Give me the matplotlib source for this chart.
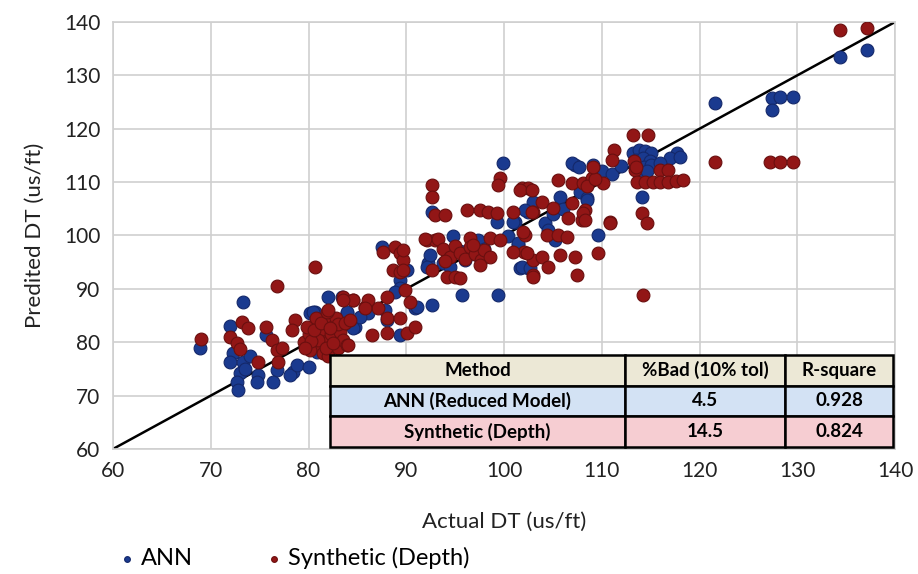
import matplotlib.pyplot as plt

plt.rcParams['font.family'] = ['Lato', 'DejaVu Sans']

# ANN (Reduced Model) predictions: (actual, predicted)
ann_pts = [
    (68.9, 79.0), (73.3, 87.5), (72.0, 83.0), (72.3, 78.0), (72.0, 76.3), (73.3, 76.3),
    (73.0, 74.2), (72.7, 72.6), (72.8, 71.1), (74.8, 73.9), (74.7, 72.6), (75.7, 81.4),
    (76.8, 74.8), (76.4, 72.6), (78.4, 74.4), (78.1, 73.9), (78.8, 75.7), (80.1, 75.4),
    (80.7, 85.7), (80.9, 78.2), (82.0, 88.5), (80.2, 85.5), (83.9, 85.5), (84.8, 82.9),
    (73.5, 75.0), (74.0, 77.5), (87.5, 97.8), (90.1, 93.5), (89.4, 91.6), (89.4, 90.2),
    (88.8, 89.4), (90.9, 86.4), (87.8, 86.0), (86.1, 85.5), (85.3, 84.7), (83.4, 88.5),
    (83.9, 85.7), (84.6, 82.7), (80.5, 85.7), (82.5, 84.5), (88.0, 84.2), (89.4, 81.3),
    (92.6, 87.0), (92.2, 94.9), (99.9, 113.6), (92.6, 104.4), (99.3, 102.5), (101.1, 102.5),
    (102.5, 104.4), (94.8, 99.9), (97.3, 99.2), (100.4, 99.9), (101.4, 98.2), (101.6, 93.9),
    (102.5, 93.9), (92.4, 96.3), (92.1, 94.1), (93.8, 94.9), (94.5, 94.1), (95.7, 88.9),
    (99.4, 88.9), (91.1, 86.6), (95.5, 97.0), (97.0, 96.5), (98.0, 97.5), (96.0, 95.5),
    (107.3, 113.2), (107.8, 108.2), (105.7, 107.2), (103.0, 106.3), (108.5, 107.0),
    (102.1, 104.8), (100.9, 102.5), (104.2, 102.3), (104.5, 101.0), (105.2, 99.2),
    (109.6, 100.0), (101.4, 98.6), (101.8, 94.1), (102.7, 93.9), (105.0, 104.0),
    (106.0, 105.0), (110.0, 112.0), (111.0, 111.5), (112.0, 113.0),
    (113.2, 115.5), (113.8, 116.0), (114.4, 115.8), (115.0, 115.5), (113.5, 114.2),
    (114.2, 114.5), (114.9, 114.0), (113.4, 113.0), (114.3, 112.8), (115.0, 113.2),
    (113.8, 111.8), (114.6, 112.0), (117.7, 115.5), (117.0, 114.5), (116.0, 113.6),
    (118.0, 114.7), (114.1, 107.2), (109.1, 113.2), (108.5, 106.7), (107.0, 113.6),
    (107.7, 112.9), (121.6, 124.8), (127.4, 125.8), (128.2, 126.0), (127.4, 123.5),
    (129.6, 126.0), (134.4, 133.4), (137.1, 134.8),
]

# Synthetic (Depth) predictions: (actual, predicted)
syn_pts = [
    (69.0, 80.6), (76.8, 90.5), (80.7, 94.1), (73.2, 83.8), (73.8, 82.7), (72.0, 81.0),
    (72.7, 79.9), (73.0, 78.8), (74.8, 76.3), (75.7, 82.9), (76.3, 80.4), (76.8, 78.6),
    (76.9, 76.3), (77.3, 78.9), (78.6, 84.2), (78.3, 82.3),
    (79.5, 80.0), (80.0, 81.5), (80.5, 83.0), (81.0, 79.5), (81.2, 81.0), (81.5, 82.5),
    (81.8, 84.0), (82.0, 80.0), (82.3, 81.5), (82.6, 83.0), (83.0, 79.0), (83.2, 82.0),
    (80.2, 78.5), (81.5, 78.0), (82.8, 84.5), (79.8, 82.8), (80.8, 84.5), (83.5, 80.5),
    (82.0, 77.5), (81.0, 80.5), (80.3, 80.2), (81.8, 79.0), (82.5, 79.8), (80.6, 82.2),
    (83.0, 83.5), (79.6, 79.0), (81.3, 83.6), (82.2, 82.6),
    (83.5, 88.5), (84.5, 87.9), (81.9, 85.7), (85.8, 86.6), (83.7, 83.6), (83.9, 79.5),
    (87.6, 96.9), (88.8, 97.8), (89.4, 96.7), (89.7, 95.4), (88.6, 93.5), (89.4, 93.2),
    (89.9, 89.8), (90.4, 87.5), (88.0, 88.5), (87.1, 86.4), (86.1, 87.9), (85.8, 86.4),
    (84.6, 87.9), (83.5, 87.9), (84.2, 84.2), (82.0, 86.0), (88.0, 84.5), (89.4, 84.5),
    (88.0, 81.7), (86.5, 81.3), (90.1, 81.7), (90.9, 82.9), (92.1, 99.2), (92.9, 99.2),
    (84.0, 79.5), (99.6, 110.8), (99.4, 109.5), (92.6, 109.5), (92.6, 107.2), (92.9, 103.8),
    (94.0, 103.8), (96.2, 104.8), (97.5, 104.8), (98.4, 104.4), (99.3, 104.2), (100.9, 104.4),
    (101.8, 108.9), (102.5, 108.9), (103.0, 104.4), (91.9, 99.3), (93.2, 99.3), (96.5, 99.5),
    (98.6, 99.5), (99.6, 99.2), (102.1, 100.0),
    (93.8, 97.5), (94.5, 96.0), (95.0, 98.0), (95.5, 96.8), (96.0, 95.6), (96.5, 97.8),
    (97.0, 96.5), (97.6, 95.5), (98.0, 97.2), (98.6, 96.0), (94.0, 95.3), (96.8, 98.3),
    (102.0, 96.9), (103.0, 95.4), (103.0, 92.6), (92.6, 93.5), (94.2, 92.2), (95.0, 92.2),
    (95.5, 92.0), (97.5, 94.5), (89.7, 97.3), (89.7, 93.5),
    (105.5, 110.4), (101.6, 108.5), (102.9, 108.5), (107.0, 109.8), (108.1, 109.8),
    (109.0, 110.8), (110.1, 109.8), (103.9, 106.3), (107.0, 106.1), (108.3, 104.8),
    (105.0, 105.2), (106.5, 103.3), (108.0, 102.9), (102.9, 104.4), (104.4, 100.0),
    (105.5, 100.0), (106.4, 99.7), (110.8, 102.5), (101.9, 100.6), (100.9, 96.9),
    (102.4, 96.7), (103.9, 96.0), (105.7, 96.3), (107.3, 96.0), (109.6, 96.7),
    (104.5, 94.1), (107.5, 92.6), (103.0, 92.2),
    (113.2, 118.8), (114.7, 118.8), (111.2, 116.0), (111.0, 114.1), (113.4, 112.3),
    (116.0, 112.3), (116.8, 112.3), (113.6, 110.0), (114.4, 110.0), (115.2, 110.0),
    (116.0, 110.0), (116.8, 110.0), (117.6, 110.2), (118.3, 110.4), (113.3, 114.0),
    (113.5, 112.8), (114.1, 104.2), (114.6, 102.3), (110.8, 102.3), (114.2, 88.9),
    (108.5, 109.2), (109.3, 110.5), (108.1, 104.2), (108.3, 102.9), (109.1, 112.9),
    (121.6, 113.8), (127.2, 113.8), (128.2, 113.8), (129.6, 113.8),
    (134.4, 138.5), (137.1, 138.9),
]

table_cols = ['Method', '%Bad (10% tol)', 'R-square']
table_rows = [
    ['ANN (Reduced Model)', '4.5', '0.928'],
    ['Synthetic (Depth)', '14.5', '0.824'],
]
header_color = '#ece8d6'
row_colors = ['#d3e2f4', '#f6cdd2']

fig = plt.figure(figsize=(9.18, 5.74), dpi=100)
ax = fig.add_axes([0.1231, 0.2178, 0.8519, 0.7439])

ax.plot([60, 140], [60, 140], color='black', lw=1.8, zorder=2)

ax_x, ax_y = zip(*ann_pts)
sy_x, sy_y = zip(*syn_pts)
ax.scatter(ax_x, ax_y, s=85, color='#1a3a8f', edgecolors='#14286a', linewidths=0.8,
           zorder=3, label='ANN')
ax.scatter(sy_x, sy_y, s=85, color='#921616', edgecolors='#6a0f0f', linewidths=0.8,
           zorder=3, label='Synthetic (Depth)')

ax.set_xlim(60, 140)
ax.set_ylim(60, 140)
ax.set_xticks(range(60, 141, 10))
ax.set_yticks(range(60, 141, 10))
ax.grid(True, color='#cfcfcf', lw=1.2, zorder=0)
ax.set_axisbelow(True)
for sp in ax.spines.values():
    sp.set_color('#cfcfcf')
    sp.set_linewidth(1.2)
ax.tick_params(length=0, labelsize=15, pad=9, colors='#222222')

ax.set_xlabel('Actual DT (us/ft)', fontsize=16, labelpad=22, color='#222222')
ax.set_ylabel('Predited DT (us/ft)', fontsize=16, labelpad=14, color='#222222')

tbl = ax.table(cellText=table_rows, colLabels=table_cols, cellLoc='center',
               colWidths=[295, 160, 108], bbox=[0.2775, 0.005, 0.72, 0.215])
tbl.auto_set_font_size(False)
tbl.set_zorder(5)
for (r, c), cell in tbl.get_celld().items():
    cell.set_edgecolor('black')
    cell.set_linewidth(1.8)
    cell.set_facecolor(header_color if r == 0 else row_colors[r - 1])
    cell.get_text().set_fontsize(13.5)
    cell.get_text().set_fontweight('bold')

fig.legend(loc='lower left', bbox_to_anchor=(0.105, -0.028), ncol=2, frameon=False,
           fontsize=17, markerscale=0.45, handletextpad=0.2, handlelength=0.8,
           columnspacing=3.0)

fig.savefig('out.png', dpi=100)
